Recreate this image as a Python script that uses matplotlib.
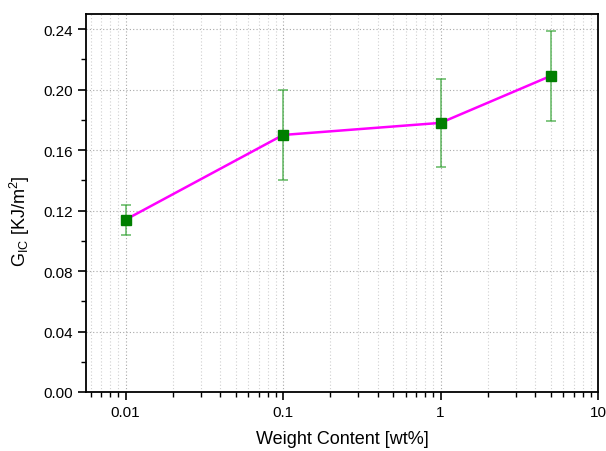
import matplotlib
matplotlib.use("Agg")
import matplotlib.pyplot as plt
from matplotlib.ticker import MultipleLocator, LogLocator, FixedFormatter, FixedLocator

plt.rcParams['font.family'] = ['Liberation Sans', 'DejaVu Sans']

# fracture toughness vs. filler weight content
weight = [0.01, 0.1, 1, 5]
g_ic = [0.114, 0.170, 0.178, 0.209]
g_err = [0.010, 0.030, 0.029, 0.030]

x_ticks = [0.01, 0.1, 1, 10]
x_tick_labels = ["0.01", "0.1", "1", "10"]

fig = plt.figure(figsize=(6.06, 4.52), dpi=100)
ax = fig.add_axes([86 / 606, 59 / 452, 512 / 606, 378 / 452])

ax.plot(weight, g_ic, color="#ff00ff", lw=1.8, zorder=3)
ax.errorbar(weight, g_ic, yerr=g_err, fmt="none", ecolor="#2ca02c", alpha=0.75,
            elinewidth=1.1, capsize=3.5, capthick=1.1, zorder=2)
ax.plot(weight, g_ic, ls="none", marker="s", ms=7.5, color="#007f00", zorder=4)

ax.set_xscale("log")
ax.set_xlim(0.0056, 10)
ax.set_ylim(0, 0.25)

ax.xaxis.set_major_locator(FixedLocator(x_ticks))
ax.xaxis.set_major_formatter(FixedFormatter(x_tick_labels))
ax.xaxis.set_minor_locator(LogLocator(base=10, subs=range(2, 10)))
ax.xaxis.set_minor_formatter(plt.NullFormatter())
ax.yaxis.set_major_locator(MultipleLocator(0.04))
ax.yaxis.set_minor_locator(MultipleLocator(0.02))
ax.yaxis.set_major_formatter(plt.FuncFormatter(lambda v, p: f"{v:.2f}"))

ax.grid(True, which="major", axis="both", color="#a8a8a8", ls=(0, (1, 2)), lw=0.8)
ax.grid(True, which="minor", axis="x", color="#d0d0d0", ls=(0, (1, 2)), lw=0.8)

ax.tick_params(which="major", direction="out", length=6, width=1.2, labelsize=11)
ax.tick_params(which="minor", direction="out", length=3.5, width=1.0)
for s in ax.spines.values():
    s.set_linewidth(1.3)

ax.set_xlabel("Weight Content [wt%]", fontsize=13, labelpad=8)
ax.set_ylabel(r"G$_{\mathregular{IC}}$ [KJ/m$^{\mathregular{2}}$]", fontsize=13)
ax.yaxis.set_label_coords(-0.105, 0.455)

fig.savefig("out.png", dpi=100)
